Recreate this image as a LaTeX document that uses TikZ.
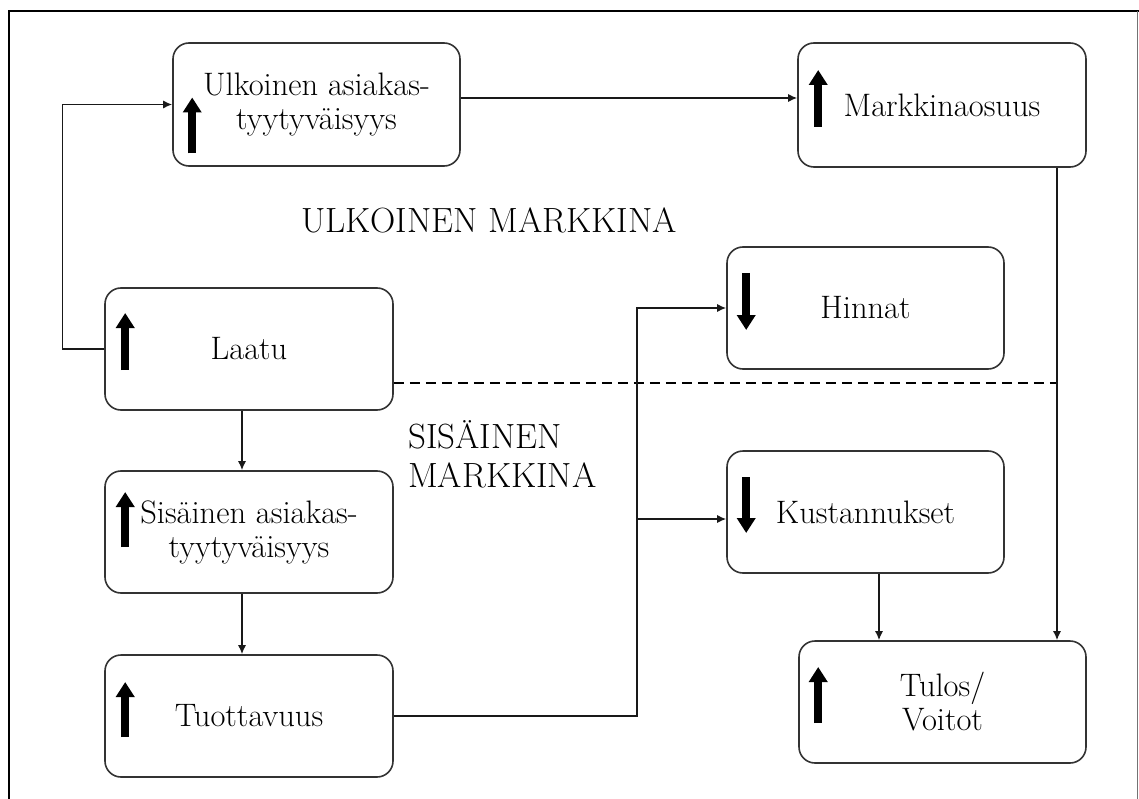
\documentclass[tikz,border=0pt]{standalone}
\usetikzlibrary{arrows.meta,calc}
\begin{document}
\begin{tikzpicture}[x=1pt,y=-1pt,
  box/.style={draw=black!80,line width=1.6pt,rounded corners=16pt,inner sep=0pt,align=center,
    font=\fontsize{32.5}{34}\selectfont},
  conn/.style={draw=black!90,line width=1.4pt,-{Latex[length=9pt,width=8pt]}},
  fat/.style={line width=8.5pt,-{Triangle[length=15pt,width=18pt]}},
  region/.style={inner sep=0pt,font=\fontsize{35}{39}\selectfont,align=left}]
\useasboundingbox (0,0) rectangle (1139,799);
% frame
\draw[line width=1.5pt] (1139,11) -- (9,11) -- (9,799);
\draw[line width=1pt,black!55] (1137.5,11) -- (1137.5,799);
% boxes
\node[box,minimum width=287pt,minimum height=123pt] (ulk) at (316.5,104.5) {Ulkoinen asiakas-\\tyytyv\"aisyys};
\node[box,minimum width=288pt,minimum height=124pt] (mar) at (942,105) {Markkinaosuus};
\node[box,minimum width=288pt,minimum height=122pt] (laa) at (249,349) {Laatu};
\node[box,minimum width=288pt,minimum height=122pt] (sis) at (249,532) {Sis\"ainen asiakas-\\tyytyv\"aisyys};
\node[box,minimum width=288pt,minimum height=122pt] (tuo) at (249,716) {Tuottavuus};
\node[box,minimum width=277pt,minimum height=122pt] (hin) at (865.5,308) {Hinnat};
\node[box,minimum width=277pt,minimum height=122pt] (kus) at (865.5,512) {Kustannukset};
\node[box,minimum width=287pt,minimum height=122pt] (tul) at (942.5,702) {Tulos/\\Voitot};
% region labels
\node[region,anchor=base west] (ext) at (301,233) {ULKOINEN MARKKINA};
\node[region,anchor=north west] (int) at (408,420) {SIS\"AINEN\\MARKKINA};
% fat arrows
\draw[fat] ($(ulk.west)+(20,49)$) -- ++(0,-56);
\draw[fat] ($(mar.west)+(21,22)$) -- ++(0,-57);
\draw[fat] ($(laa.west)+(21,21)$) -- ++(0,-57);
\draw[fat] ($(sis.west)+(21,15)$) -- ++(0,-55);
\draw[fat] ($(tuo.west)+(21,21)$) -- ++(0,-55);
\draw[fat] ($(hin.west)+(20,-35)$) -- ++(0,57);
\draw[fat] ($(kus.west)+(20,-35)$) -- ++(0,56);
\draw[fat] ($(tul.west)+(20,21)$) -- ++(0,-56);
% dashed divider
\coordinate (dend) at (1057,383);
\draw[line width=2.6pt,dash pattern=on 10pt off 6pt] (laa.east |- dend) -- (dend);
% connectors
\draw[conn] (laa.west) -- ++(-42,0) |- (ulk.west);
\draw[conn] (ulk.east |- 0,98) -- (mar.west |- 0,98);
\draw[conn] (mar.south -| 1057,0) -- (tul.north -| 1057,0);
\draw[conn] (laa.south -| 242,0) -- (sis.north -| 242,0);
\draw[conn] (sis.south -| 242,0) -- (tuo.north -| 242,0);
\draw[conn] (tuo.east) -- (637,716) |- (hin.west);
\coordinate (j) at (637,519);
\draw[conn] (j) -- (kus.west |- j);
\draw[conn] (kus.south -| 879,0) -- (tul.north -| 879,0);
\end{tikzpicture}
\end{document}
